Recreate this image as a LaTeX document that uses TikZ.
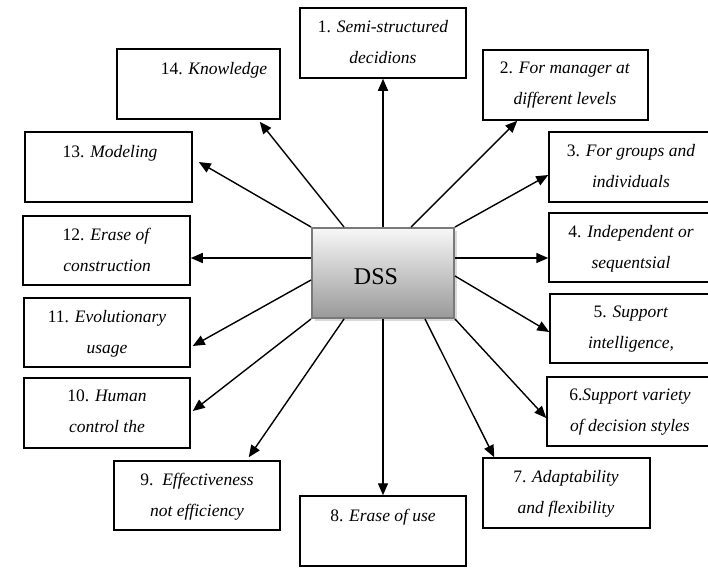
\documentclass[tikz,border=0pt]{standalone}
\usepackage{fontspec}
\setmainfont{Liberation Serif}
\usetikzlibrary{arrows.meta,fit,shadows}
\begin{document}
\begin{tikzpicture}[x=1pt,y=-1pt,
  boxstyle/.style={draw=black,line width=1.5pt,inner sep=0pt},
  lbl/.style={anchor=north,inner sep=0pt,align=center,font=\fontsize{17.5}{31}\selectfont,execute at begin node=\rule{0pt}{13pt}},
  conn/.style={line width=1.4pt,-{Triangle[length=12pt,width=10pt]}},
  dssstyle/.style={inner sep=0pt,draw=gray!95!black,line width=2pt,top color=gray!6,bottom color=gray!80,
    drop shadow={shadow xshift=3pt,shadow yshift=-3pt,fill=gray!30,opacity=1}}
]
\useasboundingbox (0,0) rectangle (708,573);

% boxes
\node[boxstyle,fit={(300,8)(466,78)}] (b1) {};
\node[boxstyle,fit={(483,50)(648,120)}] (b2) {};
\node[boxstyle,fit={(549,132)(712,202)}] (b3) {};
\node[boxstyle,fit={(549,213)(712,282)}] (b4) {};
\node[boxstyle,fit={(550,294)(712,363)}] (b5) {};
\node[boxstyle,fit={(547,377)(712,446)}] (b6) {};
\node[boxstyle,fit={(483,458)(650,528)}] (b7) {};
\node[boxstyle,fit={(300,496)(466,566)}] (b8) {};
\node[boxstyle,fit={(114,461)(280,530)}] (b9) {};
\node[boxstyle,fit={(24,378)(190,448)}] (b10) {};
\node[boxstyle,fit={(24,298)(190,367)}] (b11) {};
\node[boxstyle,fit={(23,216)(190,285)}] (b12) {};
\node[boxstyle,fit={(25,132)(192,202)}] (b13) {};
\node[boxstyle,fit={(117,49)(280,119)}] (b14) {};

% labels
\node[lbl] (l1) at (383,20) {1. \textit{Semi-structured}\\\textit{decidions}};
\node[lbl] (l2) at (565,62) {2. \textit{For manager at}\\\textit{different levels}};
\node[lbl] (l3) at (631,144) {3. \textit{For groups and}\\\textit{individuals}};
\node[lbl] (l4) at (631,225) {4. \textit{Independent or}\\\textit{sequentsial}};
\node[lbl] (l5) at (631,306) {5. \textit{Support}\\\textit{intelligence,}};
\node[lbl] (l6) at (630,389) {6.\textit{Support variety}\\\textit{of decision styles}};
\node[lbl] (l7) at (566,470) {7. \textit{Adaptability}\\\textit{and flexibility}};
\node[lbl] (l8) at (383,508) {8. \textit{Erase of use}};
\node[lbl] (l9) at (197,473) {9.\ \ \textit{Effectiveness}\\\textit{not efficiency}};
\node[lbl] (l10) at (107,390) {10. \textit{Human}\\\textit{control the}};
\node[lbl] (l11) at (107,310) {11. \textit{Evolutionary}\\\textit{usage}};
\node[lbl] (l12) at (107,228) {12. \textit{Erase of}\\\textit{construction}};
\node[lbl] (l13) at (110,144) {13. \textit{Modeling}};
\node[lbl] (l14) at (214,61) {14. \textit{Knowledge}};

% centre
\node[dssstyle,fit={(312,228)(454,318)}] (dss) {};
\node[font=\fontsize{24}{24}\selectfont,inner sep=0pt] (dsslabel) at ([xshift=-7pt,yshift=-4pt]dss.center) {DSS};

% connectors
\draw[conn] (dss.north) -- (b1.south);
\draw[conn] ([xshift=-44pt]dss.north east) -- ([xshift=35pt]b2.south west);
\draw[conn] (dss.north east) -- ([yshift=-8pt]b3.west);
\draw[conn] ([yshift=15pt]dss.east) -- ([yshift=-10.5pt]b4.west);
\draw[conn] ([yshift=-3pt]dss.east) -- ([yshift=-3.5pt]b5.west);
\draw[conn] (dss.south east) -- ([yshift=-6.5pt]b6.west);
\draw[conn] ([xshift=-30pt]dss.south east) -- ([xshift=12pt]b7.north west);
\draw[conn] (dss.south) -- (b8.north);
\draw[conn] ([xshift=33pt]dss.south west) -- ([xshift=-32pt,yshift=3pt]b9.north east);
\draw[conn] (dss.south west) -- ([xshift=2pt,yshift=2pt]b10.east);
\draw[conn] ([yshift=-7pt]dss.west) -- ([xshift=2pt,yshift=-13.5pt]b11.east);
\draw[conn] ([yshift=15pt]dss.west) -- ([yshift=-7.5pt]b12.east);
\draw[conn] (dss.north west) -- ([xshift=6pt,yshift=5pt]b13.east);
\draw[conn] ([xshift=33pt]dss.north west) -- ([xshift=-21pt,yshift=-2pt]b14.south east);
\end{tikzpicture}
\end{document}
